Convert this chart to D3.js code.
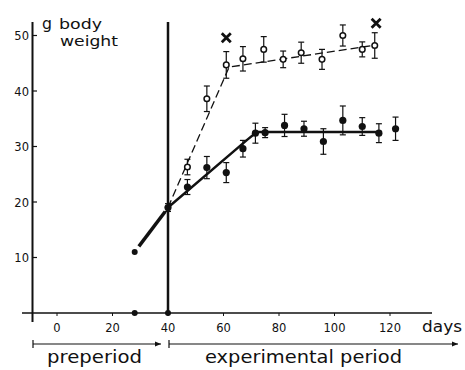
<!DOCTYPE html>
<html>
<head>
<meta charset="utf-8">
<script src="https://cdn.jsdelivr.net/npm/d3@7"></script>
<style>
  body { margin: 0; background: #fff; }
  svg { display: block; }
  text { font-family: "DejaVu Sans", sans-serif; fill: #111; }
</style>
</head>
<body>
<svg id="chart" width="465" height="370"></svg>
<script>
// ticks
const xTicks = [0, 20, 40, 60, 80, 100, 120];
const yTicks = [10, 20, 30, 40, 50];

// filled circles (solid line)
const solidDays = [40, 47, 54, 61, 67, 71.5, 75, 82, 89, 96, 103, 110, 116, 122];
const solidWeight = [19, 22.7, 26.2, 25.3, 29.6, 32.4, 32.5, 33.8, 33.2, 30.9, 34.7, 33.6, 32.4, 33.2];
const solidErr = [0.7, 1.35, 2.0, 1.8, 1.5, 1.8, 0.9, 2.0, 1.35, 2.3, 2.6, 1.6, 1.7, 2.1];

// open circles (dashed line)
const openDays = [47, 54, 61, 67, 74.5, 81.5, 88, 95.5, 103, 110, 114.5];
const openWeight = [26.3, 38.6, 44.7, 45.8, 47.5, 45.7, 46.9, 45.7, 50, 47.5, 48.2];
const openErr = [1.4, 2.3, 2.4, 2.2, 2.3, 1.5, 1.9, 1.8, 1.9, 1.35, 2.3];

// fitted lines
const solidFit = [[40, 19], [68.5, 31.2], [72, 32.6], [117, 32.6]];
const dashedFit = [[40, 19], [62, 44.3], [115, 48.3]];
const preFit = [[29.5, 12], [39, 18.3]];
const prePoint = [28, 11];
const baseDots = [28, 40];
const crosses = [[61, 49.6], [115, 52.2]];

const svg = d3.select("#chart");

const x = d3.scaleLinear().domain([0, 120]).range([57, 390]);
const y = d3.scaleLinear().domain([0, 50]).range([313, 35.5]);

const line = d3.line().x(d => x(d[0])).y(d => y(d[1]));

// text with fixed width, to follow the hand lettering
function label(tx, ty, size, str, len, anchor) {
  const t = svg.append("text")
    .attr("x", tx).attr("y", ty)
    .attr("font-size", size)
    .attr("text-anchor", anchor || "start")
    .text(str);
  if (len) t.attr("textLength", len).attr("lengthAdjust", "spacingAndGlyphs");
  return t;
}

// y axis
svg.append("line")
  .attr("x1", 32.5).attr("x2", 32.5)
  .attr("y1", 22).attr("y2", 322)
  .attr("stroke", "#111").attr("stroke-width", 2);

svg.selectAll(".ytick").data(yTicks).join("line")
  .attr("x1", 32.5).attr("x2", 37)
  .attr("y1", d => y(d)).attr("y2", d => y(d))
  .attr("stroke", "#111").attr("stroke-width", 1.2);

svg.selectAll(".ylab").data(yTicks).join("text")
  .attr("x", 29).attr("y", d => y(d) + 4.5)
  .attr("text-anchor", "end")
  .attr("font-size", 11.5)
  .text(d => d);

// x axis (baseline)
svg.append("line")
  .attr("x1", 22).attr("x2", 432)
  .attr("y1", y(0)).attr("y2", y(0))
  .attr("stroke", "#111").attr("stroke-width", 1.5);

svg.selectAll(".xtick").data(xTicks).join("line")
  .attr("x1", d => x(d)).attr("x2", d => x(d))
  .attr("y1", y(0)).attr("y2", y(0) + 3)
  .attr("stroke", "#111").attr("stroke-width", 1);

svg.selectAll(".xlab").data(xTicks).join("text")
  .attr("x", d => x(d)).attr("y", 332)
  .attr("text-anchor", "middle")
  .attr("font-size", 11.5)
  .text(d => d);

label(422, 332, 15, "days", 40);

// axis title
label(42, 29, 15, "g", 10);
label(59, 29, 14, "body", 43);
label(60, 46, 14, "weight", 58);

// vertical line at day 40
svg.append("line")
  .attr("x1", x(40)).attr("x2", x(40))
  .attr("y1", 22).attr("y2", y(0))
  .attr("stroke", "#111").attr("stroke-width", 2.5);

// period arrows
svg.append("defs").append("marker")
  .attr("id", "arr")
  .attr("viewBox", "0 -5 10 10")
  .attr("refX", 10).attr("refY", 0)
  .attr("markerWidth", 8).attr("markerHeight", 6)
  .attr("markerUnits", "userSpaceOnUse")
  .attr("orient", "auto")
  .append("path").attr("d", "M0,-4L10,0L0,4Z").attr("fill", "#111");

const periods = [
  { from: 33, to: 161, label: "preperiod", lx: 47, len: 95 },
  { from: 169, to: 458, label: "experimental period", lx: 205, len: 197 }
];
periods.forEach(p => {
  svg.append("line")
    .attr("x1", p.from).attr("x2", p.to)
    .attr("y1", 344).attr("y2", 344)
    .attr("stroke", "#111").attr("stroke-width", 1.2)
    .attr("marker-end", "url(#arr)");
  svg.append("line")
    .attr("x1", p.from).attr("x2", p.from)
    .attr("y1", 340).attr("y2", 348)
    .attr("stroke", "#111").attr("stroke-width", 1.2);
  label(p.lx, 363, 18, p.label, p.len);
});

// pre-period
svg.append("path")
  .attr("d", line(preFit))
  .attr("fill", "none").attr("stroke", "#111").attr("stroke-width", 3.5);
svg.append("circle")
  .attr("cx", x(prePoint[0])).attr("cy", y(prePoint[1])).attr("r", 3)
  .attr("fill", "#111");
svg.selectAll(".bdot").data(baseDots).join("circle")
  .attr("cx", d => x(d)).attr("cy", y(0)).attr("r", 3)
  .attr("fill", "#111");

// fitted lines
svg.append("path")
  .attr("d", line(dashedFit))
  .attr("fill", "none").attr("stroke", "#111").attr("stroke-width", 1.3)
  .attr("stroke-dasharray", "8,4");
svg.append("path")
  .attr("d", line(solidFit))
  .attr("fill", "none").attr("stroke", "#111").attr("stroke-width", 2.5);

// error bars helper
function errorBars(days, vals, errs, cls) {
  const g = svg.append("g").attr("class", cls);
  days.forEach((d, i) => {
    const cx = x(d), lo = y(vals[i] - errs[i]), hi = y(vals[i] + errs[i]);
    g.append("line").attr("x1", cx).attr("x2", cx).attr("y1", lo).attr("y2", hi)
      .attr("stroke", "#111").attr("stroke-width", 1.2);
    [lo, hi].forEach(yy => {
      g.append("line").attr("x1", cx - 3).attr("x2", cx + 3).attr("y1", yy).attr("y2", yy)
        .attr("stroke", "#111").attr("stroke-width", 1.2);
    });
  });
}

errorBars(openDays, openWeight, openErr, "oerr");
errorBars(solidDays, solidWeight, solidErr, "serr");

svg.selectAll(".open").data(openDays).join("circle")
  .attr("cx", d => x(d)).attr("cy", (d, i) => y(openWeight[i])).attr("r", 2.8)
  .attr("fill", "#fff").attr("stroke", "#111").attr("stroke-width", 1.5);

svg.selectAll(".solid").data(solidDays).join("circle")
  .attr("cx", d => x(d)).attr("cy", (d, i) => y(solidWeight[i])).attr("r", 3.6)
  .attr("fill", "#111");

// crosses
crosses.forEach(c => {
  const cx = x(c[0]), cy = y(c[1]), s = 4.5;
  svg.append("path")
    .attr("d", `M${cx - s},${cy - s}L${cx + s},${cy + s}M${cx - s},${cy + s}L${cx + s},${cy - s}`)
    .attr("stroke", "#111").attr("stroke-width", 2.8);
});
</script>
</body>
</html>
